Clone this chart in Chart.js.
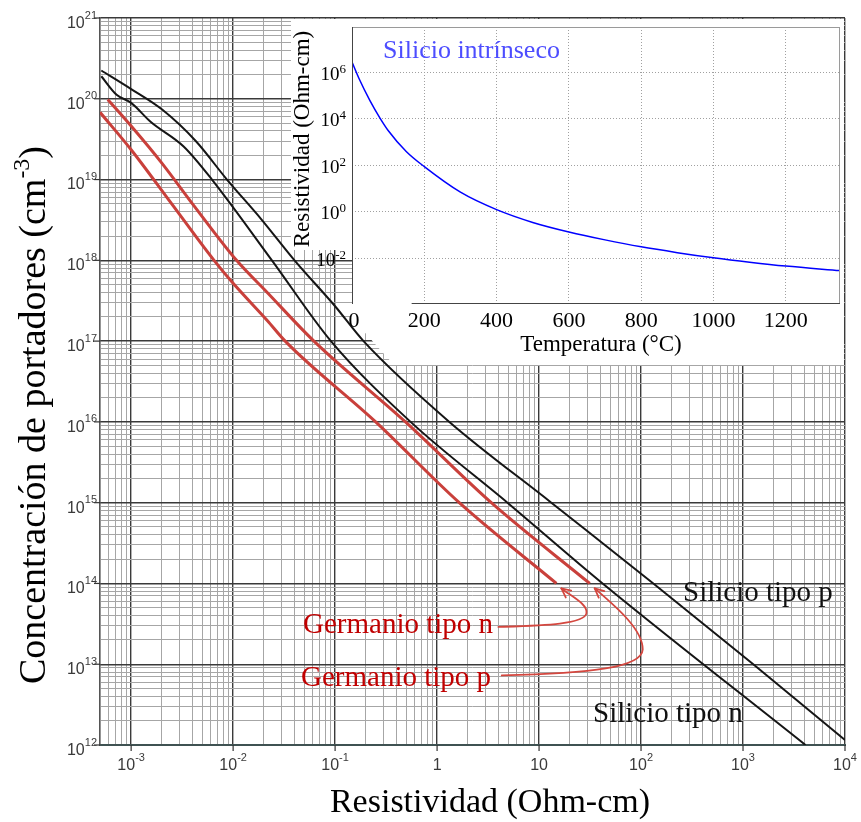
<!DOCTYPE html>
<html>
<head>
<meta charset="utf-8">
<title>Resistividad vs concentración de portadores</title>
<script src="https://cdn.jsdelivr.net/npm/chart.js@4.4.1/dist/chart.umd.min.js"></script>
<style>
  html, body { margin: 0; padding: 0; background: #fff; }
  #wrap { position: relative; width: 861px; height: 822px; overflow: hidden; }
  #main { position: absolute; left: 0; top: 0; }
  #inset { position: absolute; left: 291px; top: 19px; }
</style>
</head>
<body>
<div id="wrap">
  <canvas id="main" width="861" height="822"></canvas>
  <canvas id="inset" width="553" height="346"></canvas>
</div>
<script>
// ===== DATA =====
// Silicio tipo p
const siP_rho = [5.1e-4, 1.0e-3, 2.0e-3, 4.3e-3, 8.7e-3, 1.9e-2, 4.0e-2, 0.10, 0.19, 1.32, 13.2, 132, 1.26e3, 1.0e4];
const siP_N   = [2.24e20, 1.32e20, 7.4e19, 3.0e19, 1.0e19, 3.2e18, 1.0e18, 2.7e17, 1.0e17, 1.0e16, 1.0e15, 1.0e14, 1.0e13, 1.15e12];
// Silicio tipo n
const siN_rho = [5.1e-4, 7.2e-4, 1.0e-3, 1.55e-3, 3.27e-3, 6.2e-3, 2.4e-2, 9.1e-2, 0.55, 4.9, 42, 4.1e3];
const siN_N   = [1.9e20, 1.12e20, 8.9e19, 5.2e19, 2.57e19, 1.0e19, 1.0e18, 1.0e17, 1.0e16, 1.0e15, 1.0e14, 1.0e12];
// Germanio tipo p
const geP_rho = [5.9e-4, 1.0e-3, 2.0e-3, 4.1e-3, 1.08e-2, 2.16e-2, 6.2e-2, 0.49, 3.4, 31.4];
const geP_N   = [9.8e19, 4.6e19, 1.6e19, 4.8e18, 1.0e18, 4.0e17, 1.0e17, 1.0e16, 1.0e15, 1.0e14];
// Germanio tipo n
const geN_rho = [4.95e-4, 1.0e-3, 2.5e-3, 6.5e-3, 1.0e-2, 2.16e-2, 3.24e-2, 0.25, 1.65, 14.8];
const geN_N   = [6.8e19, 2.34e19, 5.0e18, 1.0e18, 5.2e17, 1.8e17, 1.0e17, 1.0e16, 1.0e15, 1.0e14];

// Inset: silicio intrínseco
const tempC   = [0, 20, 50, 77, 100, 150, 200, 300, 400, 500, 600, 700, 800, 900, 1000, 1100, 1200, 1350];
const rhoIntr = [2.8e6, 5.2e5, 6.0e4, 1.12e4, 3.2e3, 400, 89, 7.1, 1.26, 0.355, 0.138, 0.063, 0.0316, 0.0178, 0.0107, 0.0069, 0.0047, 0.003];

// tick labels
const rhoDecades  = [-3, -2, -1, 0, 1, 2, 3, 4];
const nDecades    = [12, 13, 14, 15, 16, 17, 18, 19, 20, 21];
const tempTicks   = [0, 200, 400, 600, 800, 1000, 1200];
const intrDecades = [-2, 0, 2, 4, 6];

// ===== HELPERS =====
const SANS = '"Liberation Sans", Arial, sans-serif';
const SERIF = '"Liberation Serif", "Times New Roman", serif';

function series(xs, ys) { return xs.map((x, i) => ({ x, y: ys[i] })); }

function curve(label, xs, ys, color, width) {
    return {
        label, data: series(xs, ys),
        borderColor: color, borderWidth: width,
        showLine: true, pointRadius: 0, fill: false,
        cubicInterpolationMode: 'monotone'
    };
}

// log paper: 1..9 in every decade
function logTicks(min, max) {
    const t = [];
    for (let e = Math.floor(Math.log10(min)); e <= Math.ceil(Math.log10(max)); e++) {
        for (let m = 1; m < 10; m++) {
            const v = m * Math.pow(10, e);
            if (v >= min * 0.999 && v <= max * 1.001) t.push({ value: v, major: m === 1 });
        }
    }
    return t;
}

function seg(ctx, x1, y1, x2, y2) { ctx.beginPath(); ctx.moveTo(x1, y1); ctx.lineTo(x2, y2); ctx.stroke(); }

// "10" with a superscript exponent
function pow10(ctx, x, y, exp, o) {
    ctx.font = o.base; const wb = ctx.measureText('10').width;
    ctx.font = o.sup; const ws = ctx.measureText(exp).width;
    const x0 = o.align === 'right' ? x - wb - ws : x - (wb + ws) / 2;
    ctx.textAlign = 'left';
    ctx.font = o.base; ctx.fillText('10', x0, y);
    ctx.font = o.sup; ctx.fillText(exp, x0 + wb, y - o.rise);
}

// centred run of text pieces: [text, font, rise]
function richText(ctx, parts, cx, cy) {
    let w = 0;
    parts.forEach(p => { ctx.font = p[1]; w += ctx.measureText(p[0]).width; });
    let xx = cx - w / 2;
    ctx.textAlign = 'left';
    parts.forEach(p => {
        ctx.font = p[1];
        ctx.fillText(p[0], xx, cy - (p[2] || 0));
        xx += ctx.measureText(p[0]).width;
    });
}

// curved callout arrow ending at tip (tx,ty); path given as offsets from the tip
function callout(ctx, tx, ty, path, color) {
    ctx.save();
    ctx.strokeStyle = color; ctx.lineWidth = 1.8; ctx.lineCap = 'round';
    ctx.beginPath();
    ctx.moveTo(tx + path.start[0], ty + path.start[1]);
    path.curves.forEach(c => ctx.bezierCurveTo(tx + c[0], ty + c[1], tx + c[2], ty + c[3], tx + c[4], ty + c[5]));
    ctx.stroke();
    const last = path.curves[path.curves.length - 1];
    const ang = Math.atan2(-last[3], -last[2]);
    [0.45, -0.45].forEach(d => seg(ctx, tx, ty, tx - 10 * Math.cos(ang + d), ty - 10 * Math.sin(ang + d)));
    ctx.restore();
}

// ===== MAIN CHART =====
const mainText = {
    id: 'mainText',
    afterDraw(chart) {
        const { ctx, chartArea: a, scales: { x, y } } = chart;
        ctx.save();
        ctx.strokeStyle = '#333'; ctx.lineWidth = 1.2;
        rhoDecades.forEach(e => { const px = x.getPixelForValue(Math.pow(10, e)); seg(ctx, px, a.bottom, px, a.bottom + 6); });
        nDecades.forEach(e => { const py = y.getPixelForValue(Math.pow(10, e)); seg(ctx, a.left - 6, py, a.left, py); });

        // tick labels
        ctx.fillStyle = '#3a3a3a'; ctx.textBaseline = 'middle';
        const lab = { base: '16px ' + SANS, sup: '11px ' + SANS, rise: 8 };
        rhoDecades.forEach(e => {
            const px = x.getPixelForValue(Math.pow(10, e));
            if (e === 0 || e === 1) {
                ctx.font = lab.base; ctx.textAlign = 'center';
                ctx.fillText(e === 0 ? '1' : '10', px, a.bottom + 20.5);
            } else {
                pow10(ctx, px, a.bottom + 20.5, String(e), Object.assign({ align: 'center' }, lab));
            }
        });
        nDecades.forEach(e => {
            const py = y.getPixelForValue(Math.pow(10, e));
            pow10(ctx, a.left - 3, py + 5.5, String(e), Object.assign({ align: 'right' }, lab));
        });

        // axis titles
        ctx.fillStyle = '#000';
        ctx.font = '34px ' + SERIF; ctx.textAlign = 'center';
        ctx.fillText('Resistividad (Ohm-cm)', 490, 803);
        ctx.save();
        ctx.translate(35, 415); ctx.rotate(-Math.PI / 2);
        richText(ctx, [
            ['Concentración de portadores (cm', '38px ' + SERIF, 0],
            ['-3', '24px ' + SERIF, 12],
            [')', '38px ' + SERIF, 0]
        ], 0, 0);
        ctx.restore();

        // curve labels
        ctx.textBaseline = 'alphabetic'; ctx.textAlign = 'left';
        ctx.font = '29px ' + SERIF;
        ctx.fillStyle = '#111';
        ctx.fillText('Silicio tipo p', 683, 601);
        ctx.fillText('Silicio tipo n', 593, 722);
        ctx.fillStyle = '#c00000';
        ctx.fillText('Germanio tipo n', 303, 633);
        ctx.fillText('Germanio tipo p', 301, 686);

        // callouts to the ends of the germanium curves
        const nEnd = [x.getPixelForValue(geN_rho[geN_rho.length - 1]), y.getPixelForValue(geN_N[geN_N.length - 1])];
        const pEnd = [x.getPixelForValue(geP_rho[geP_rho.length - 1]), y.getPixelForValue(geP_N[geP_N.length - 1])];
        callout(ctx, nEnd[0] + 5, nEnd[1] + 5, {
            start: [-63, 38.5],
            curves: [[-20, 37, 23, 36, 25, 25], [27, 16, 10, 8, 0, 0]]
        }, '#d4473f');
        callout(ctx, pEnd[0] + 5, pEnd[1] + 5, {
            start: [-93, 87],
            curves: [[-3, 85, 47, 79, 48, 61], [48, 41, 22, 19, 0, 0]]
        }, '#d4473f');
        ctx.restore();
    }
};

const logGrid = {
    color: c => c.tick && c.tick.major ? '#3a3a3a' : '#a6a6a6',
    lineWidth: c => c.tick && c.tick.major ? 1.4 : 1,
    drawTicks: false
};

new Chart(document.getElementById('main'), {
    type: 'scatter',
    data: {
        datasets: [
            curve('Germanio tipo n', geN_rho, geN_N, '#c9403b', 3),
            curve('Germanio tipo p', geP_rho, geP_N, '#c9403b', 3),
            curve('Silicio tipo n', siN_rho, siN_N, '#151515', 2),
            curve('Silicio tipo p', siP_rho, siP_N, '#151515', 2)
        ]
    },
    options: {
        responsive: false,
        animation: false,
        devicePixelRatio: 1,
        layout: { padding: { left: 100, top: 18, right: 16, bottom: 77 } },
        plugins: { legend: { display: false }, tooltip: { enabled: false } },
        scales: {
            x: {
                type: 'logarithmic', min: 4.95e-4, max: 1e4,
                afterBuildTicks: s => { s.ticks = logTicks(s.min, s.max); },
                ticks: { display: false, autoSkip: false },
                grid: logGrid,
                border: { display: true, color: '#3f5252', width: 2 }
            },
            y: {
                type: 'logarithmic', min: 1e12, max: 1e21,
                afterBuildTicks: s => { s.ticks = logTicks(s.min, s.max); },
                ticks: { display: false, autoSkip: false },
                grid: logGrid,
                border: { display: true, color: '#555', width: 1.2 }
            }
        }
    },
    plugins: [mainText]
});

// ===== INSET =====
const insetBg = {
    id: 'insetBg',
    beforeDraw(chart) {
        const { ctx } = chart;
        ctx.save();
        ctx.fillStyle = '#fff';
        ctx.beginPath();
        [[0, 0], [553, 0], [553, 346], [103, 346], [49, 286], [61, 286], [61, 231], [0, 231]]
            .forEach((p, i) => i ? ctx.lineTo(p[0], p[1]) : ctx.moveTo(p[0], p[1]));
        ctx.closePath();
        ctx.fill();
        ctx.restore();
    }
};

const insetText = {
    id: 'insetText',
    afterDraw(chart) {
        const { ctx, chartArea: a, scales: { x, y } } = chart;
        ctx.save();
        // frame
        ctx.lineWidth = 1;
        ctx.strokeStyle = '#9a9a9a';
        seg(ctx, a.left, a.top + 0.5, a.right, a.top + 0.5);
        seg(ctx, a.right - 0.5, a.top, a.right - 0.5, a.bottom);
        ctx.strokeStyle = '#444';
        seg(ctx, a.left + 0.5, a.top, a.left + 0.5, a.bottom);
        seg(ctx, x.getPixelForValue(165), a.bottom - 0.5, a.right, a.bottom - 0.5);

        ctx.fillStyle = '#000';
        ctx.textBaseline = 'alphabetic';
        ctx.font = '22px ' + SERIF; ctx.textAlign = 'center';
        tempTicks.forEach(v => ctx.fillText(String(v), x.getPixelForValue(v) + (v === 0 ? 2 : 0), 308));
        intrDecades.forEach(e => {
            const py = y.getPixelForValue(Math.pow(10, e));
            pow10(ctx, 55, py + 7.5, String(e), { base: '19px ' + SERIF, sup: '13px ' + SERIF, rise: 7, align: 'right' });
        });

        ctx.textBaseline = 'middle';
        ctx.font = '23px ' + SERIF; ctx.textAlign = 'center';
        ctx.fillText('Temperatura (°C)', 310, 326);
        ctx.save();
        ctx.translate(12, 120); ctx.rotate(-Math.PI / 2);
        ctx.fillText('Resistividad (Ohm-cm)', 0, 0);
        ctx.restore();

        ctx.textBaseline = 'alphabetic'; ctx.textAlign = 'left';
        ctx.font = '26px ' + SERIF; ctx.fillStyle = '#4d4dff';
        ctx.fillText('Silicio intrínseco', 92, 39);
        ctx.restore();
    }
};

new Chart(document.getElementById('inset'), {
    type: 'scatter',
    data: {
        datasets: [{
            label: 'Silicio intrínseco', data: series(tempC, rhoIntr),
            borderColor: '#0000ff', borderWidth: 1.5,
            showLine: true, pointRadius: 0, fill: false,
            cubicInterpolationMode: 'monotone'
        }]
    },
    options: {
        responsive: false,
        animation: false,
        devicePixelRatio: 1,
        layout: { padding: { left: 61, top: 8, right: 4, bottom: 61 } },
        plugins: { legend: { display: false }, tooltip: { enabled: false } },
        scales: {
            x: {
                type: 'linear', min: 0, max: 1350,
                afterBuildTicks: s => { s.ticks = tempTicks.map(v => ({ value: v })); },
                ticks: { display: false, autoSkip: false },
                grid: { color: '#a0a0a0', lineWidth: 1, drawTicks: false },
                border: { display: false, dash: [1, 2] }
            },
            y: {
                type: 'logarithmic', min: 1.1e-4, max: 9e7,
                afterBuildTicks: s => { s.ticks = intrDecades.map(e => ({ value: Math.pow(10, e) })); },
                ticks: { display: false, autoSkip: false },
                grid: { color: '#a0a0a0', lineWidth: 1, drawTicks: false },
                border: { display: false, dash: [1, 2] }
            }
        }
    },
    plugins: [insetBg, insetText]
});
</script>
</body>
</html>
